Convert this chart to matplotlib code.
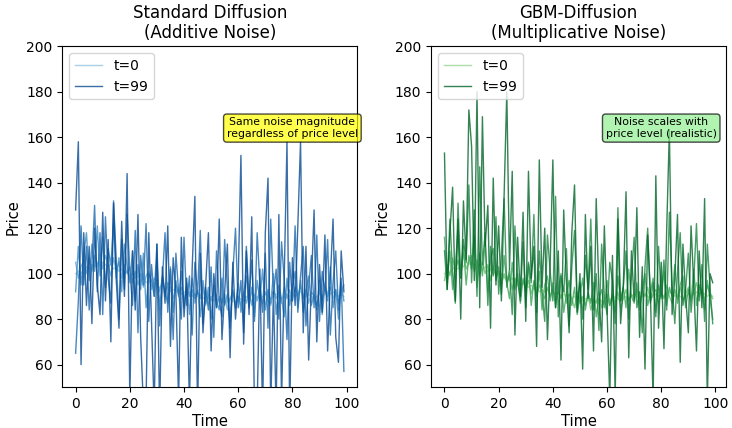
import numpy as np
import matplotlib
matplotlib.use("Agg")
import matplotlib.pyplot as plt

time = list(range(100))
step_labels = ["t=0", "t=25", "t=50", "t=75", "t=99"]

base = [100, 101, 100, 102, 103, 102, 104, 103, 105, 104,
        105, 104, 103, 104, 102, 103, 101, 102, 100, 101,
        99, 100, 98, 99, 97, 98, 96, 97, 95, 96,
        95, 94, 95, 93, 94, 92, 93, 92, 93, 91,
        92, 91, 92, 90, 91, 90, 91, 89, 90, 89,
        90, 88, 89, 88, 89, 87, 88, 89, 88, 87,
        88, 89, 88, 90, 89, 88, 89, 90, 89, 90,
        91, 90, 89, 90, 91, 90, 89, 90, 91, 90,
        91, 90, 91, 92, 91, 90, 91, 90, 89, 90,
        91, 90, 91, 92, 91, 92, 91, 90, 91, 90]

add_t25 = [105, 98, 103, 106, 100, 107, 101, 108, 103, 109,
           102, 108, 104, 99, 107, 101, 105, 98, 104, 100,
           103, 96, 101, 95, 100, 94, 99, 101, 93, 98,
           97, 92, 98, 90, 96, 94, 89, 95, 91, 94,
           88, 94, 90, 93, 87, 92, 89, 94, 86, 91,
           88, 92, 85, 90, 87, 91, 84, 89, 92, 86,
           90, 86, 92, 87, 93, 86, 91, 88, 94, 87,
           92, 88, 86, 93, 89, 92, 87, 94, 89, 93,
           88, 94, 90, 95, 89, 93, 87, 92, 90, 86,
           93, 88, 95, 90, 94, 89, 93, 87, 92, 95]

add_t50 = [92, 112, 95, 108, 118, 97, 113, 101, 121, 99,
           116, 94, 111, 104, 122, 98, 107, 92, 113, 103,
           96, 110, 88, 104, 93, 109, 85, 100, 97, 90,
           106, 84, 99, 92, 87, 103, 83, 97, 90, 101,
           85, 96, 82, 98, 89, 93, 81, 97, 87, 94,
           80, 95, 88, 84, 98, 86, 91, 79, 93, 85,
           96, 83, 91, 99, 85, 94, 81, 97, 88, 102,
           84, 93, 87, 100, 82, 95, 89, 81, 98, 86,
           94, 101, 85, 97, 83, 92, 99, 86, 91, 84,
           97, 82, 94, 88, 103, 85, 93, 80, 96, 88]

add_t75 = [65, 88, 121, 95, 112, 84, 104, 130, 92, 118,
           82, 125, 98, 87, 132, 106, 80, 115, 93, 126,
           101, 86, 119, 74, 108, 95, 122, 79, 104, 90,
           113, 77, 97, 118, 83, 102, 71, 109, 92, 80,
           116, 86, 99, 73, 105, 91, 119, 78, 94, 84,
           103, 72, 110, 88, 81, 115, 93, 76, 100, 120,
           85, 97, 74, 112, 89, 106, 79, 118, 95, 83,
           109, 76, 124, 91, 102, 80, 114, 97, 71, 105,
           88, 121, 83, 99, 112, 77, 94, 108, 85, 117,
           79, 101, 92, 115, 73, 96, 110, 84, 98, 57]

add_t99 = [128, 158, 60, 118, 86, 112, 78, 120, 95, 82,
           127, 88, 115, 70, 131, 97, 76, 123, 90, 144,
           45, 110, 84, 126, 72, 42, 44, 118, 79, 40,
           113, 38, 103, 87, 121, 68, 107, 92, 44, 116,
           81, 98, 42, 102, 134, 38, 109, 74, 95, 118,
           66, 100, 85, 124, 71, 92, 113, 63, 105, 80,
           97, 152, 69, 110, 82, 125, 40, 42, 102, 38,
           118, 142, 41, 92, 40, 126, 44, 99, 158, 38,
           107, 86, 121, 158, 74, 112, 62, 95, 128, 70,
           104, 83, 117, 66, 98, 124, 72, 61, 110, 92]

gbm_t25 = [97, 104, 99, 107, 101, 106, 100, 109, 102, 105,
           108, 101, 106, 99, 105, 100, 104, 97, 103, 99,
           101, 95, 100, 96, 99, 93, 98, 95, 92, 97,
           93, 97, 91, 96, 90, 95, 92, 89, 94, 90,
           93, 88, 92, 89, 94, 87, 91, 89, 85, 92,
           87, 90, 86, 91, 84, 89, 87, 92, 85, 88,
           91, 86, 90, 87, 92, 85, 89, 93, 88, 91,
           89, 93, 87, 92, 90, 94, 88, 91, 93, 87,
           92, 89, 95, 90, 87, 93, 89, 94, 88, 91,
           94, 89, 92, 96, 90, 93, 88, 95, 91, 89]

gbm_t50 = [116, 96, 110, 93, 104, 119, 98, 112, 95, 108,
           102, 117, 94, 109, 99, 114, 92, 106, 111, 97,
           103, 91, 108, 96, 89, 105, 93, 100, 87, 98,
           92, 104, 86, 97, 90, 101, 84, 95, 99, 88,
           96, 85, 93, 100, 83, 91, 97, 86, 94, 82,
           90, 98, 84, 92, 87, 96, 81, 89, 93, 85,
           97, 86, 91, 83, 99, 88, 94, 85, 102, 90,
           87, 96, 84, 93, 100, 86, 92, 98, 83, 95,
           89, 101, 86, 94, 90, 104, 87, 95, 99, 85,
           93, 88, 102, 86, 95, 91, 84, 97, 89, 80]

gbm_t75 = [110, 93, 124, 100, 87, 131, 98, 115, 105, 139,
           96, 128, 90, 147, 104, 118, 86, 112, 99, 125,
           91, 108, 133, 94, 102, 82, 121, 97, 88, 114,
           85, 105, 96, 126, 83, 110, 92, 79, 117, 101,
           88, 134, 81, 99, 92, 111, 77, 103, 119, 85,
           96, 80, 108, 93, 124, 84, 100, 75, 113, 90,
           82, 105, 97, 78, 129, 88, 94, 110, 80, 99,
           116, 85, 92, 74, 103, 120, 87, 96, 81, 112,
           90, 106, 84, 127, 95, 78, 101, 118, 86, 93,
           109, 83, 97, 122, 88, 104, 79, 113, 94, 78]

gbm_t99 = [153, 93, 118, 138, 88, 124, 80, 132, 106, 172,
           156, 97, 180, 85, 169, 112, 130, 76, 142, 95,
           121, 88, 134, 180, 102, 145, 73, 116, 90, 127,
           79, 145, 98, 112, 68, 150, 94, 120, 71, 104,
           150, 85, 110, 62, 128, 96, 74, 118, 139, 83,
           100, 58, 126, 89, 112, 66, 133, 92, 70, 121,
           84, 45, 108, 46, 124, 78, 95, 136, 63, 110,
           88, 129, 72, 103, 58, 117, 91, 44, 143, 76,
           105, 67, 119, 163, 82, 98, 126, 61, 113, 90,
           74, 121, 95, 66, 110, 85, 133, 44, 100, 96]

additive = [base, add_t25, add_t50, add_t75, add_t99]
gbm = [base, gbm_t25, gbm_t50, gbm_t75, gbm_t99]

titles = ["Standard Diffusion\n(Additive Noise)", "GBM-Diffusion\n(Multiplicative Noise)"]
notes = ["Same noise magnitude\nregardless of price level", "Noise scales with\nprice level (realistic)"]
note_colors = ["yellow", "lightgreen"]

fig, axes = plt.subplots(1, 2, figsize=(7.32, 4.28), dpi=100)
fig.subplots_adjust(left=0.085, right=0.992, top=0.892, bottom=0.095, wspace=0.25)

for ax, series, cmap, title, note, nc in zip(axes, [additive, gbm], [plt.cm.Blues, plt.cm.Greens],
                                             titles, notes, note_colors):
    colors = cmap(np.linspace(0.4, 0.9, len(series)))
    for i, (vals, lab) in enumerate(zip(series, step_labels)):
        label = lab if i in (0, len(series) - 1) else None
        ax.plot(time, vals, color=colors[i], lw=1.0, alpha=0.8, label=label)
    ax.set_ylim(50, 200)
    ax.set_title(title, fontsize=12, linespacing=1.1)
    ax.set_xlabel("Time", fontsize=10.5, labelpad=2)
    ax.set_ylabel("Price", fontsize=10.5)
    ax.tick_params(labelsize=10)
    ax.legend(loc="upper left", fontsize=10)
    ax.text(0.78, 0.76, note, transform=ax.transAxes, ha="center", va="center", fontsize=7.8,
            bbox=dict(boxstyle="round", facecolor=nc, alpha=0.7))

fig.savefig("out.png", dpi=100)
